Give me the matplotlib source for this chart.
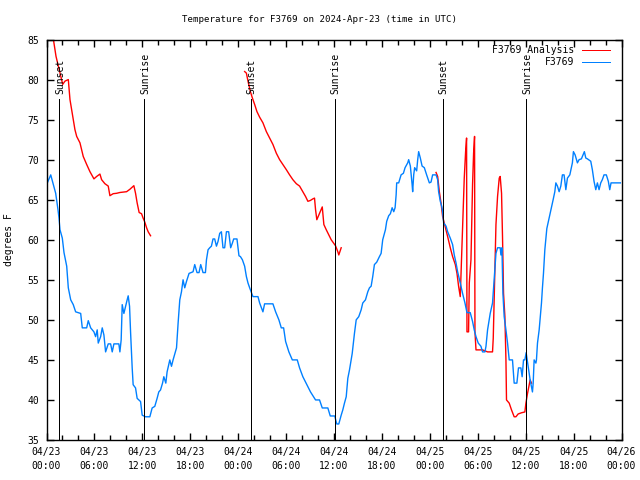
import datetime as dt
import numpy as np
import matplotlib
matplotlib.use("Agg")
import matplotlib.pyplot as plt
import matplotlib.dates as mdates

START = dt.datetime(2024, 4, 23, 0, 0)

# Observed station temperature (hours after 04/23 00:00 UTC, degrees F)
obs_hours = [0.06, 0.53, 1.15, 1.44, 1.56, 1.69, 1.98, 2.19, 2.53, 2.73, 3.03, 3.35, 3.65, 4.28, 4.48,
             5.03, 5.23, 5.53, 5.94, 6.15, 6.35, 6.48, 6.78, 6.98, 7.19, 7.40, 7.73, 8.03, 8.23, 8.44,
             9.06, 9.19, 9.35, 9.48, 9.69, 9.90, 10.10, 10.23, 10.40, 10.53, 10.73, 10.85, 11.15, 11.35,
             11.78, 11.98, 12.40, 12.94, 13.23, 13.56, 13.85, 14.06, 14.28, 14.53, 14.69, 14.94, 15.10,
             15.44, 15.65, 15.85, 16.06, 16.28, 16.48, 16.69, 16.90, 17.10, 17.31, 17.53, 17.85, 18.35,
             18.56, 18.85, 19.10, 19.31, 19.60, 19.90, 20.03, 20.23, 20.44, 20.65, 20.85, 21.06, 21.28,
             21.48, 21.69, 21.90, 22.10, 22.31, 22.53, 22.81, 23.06, 23.28, 23.44, 23.85, 24.10, 24.28,
             24.53, 24.81, 25.03, 25.23, 25.44, 25.85, 26.48, 26.69, 27.10, 27.31, 28.35, 28.69, 29.10,
             29.40, 29.69, 29.94, 30.35, 30.78, 31.40, 31.69, 32.10, 32.60, 33.06, 33.69, 34.19, 34.53,
             35.23, 35.53, 36.10, 36.19, 36.35, 36.60, 36.90, 37.10, 37.31, 37.53, 37.73, 37.94, 38.28,
             38.56, 38.78, 39.10, 39.40, 39.60, 39.94, 40.23, 40.44, 40.65, 40.85, 41.06, 41.35, 41.69,
             41.90, 42.10, 42.44, 42.60, 42.85, 43.06, 43.28, 43.48, 43.65, 43.78, 43.85, 44.10, 44.40,
             44.69, 44.90, 45.23, 45.35, 45.56, 45.78, 45.85, 45.98, 46.10, 46.35, 46.48, 46.60, 46.81,
             47.03, 47.31, 47.60, 47.94, 48.15, 48.35, 48.78, 48.98, 49.10, 49.31, 49.48, 49.60, 49.73,
             50.03, 50.23, 50.56, 50.85, 51.06, 51.28, 51.48, 51.81, 52.10, 52.40, 52.65, 53.06, 53.35,
             53.56, 53.78, 54.06, 54.40, 54.60, 54.90, 55.03, 55.23, 55.56, 55.85, 56.06, 56.28, 56.48,
             56.81, 56.90, 57.03, 57.15, 57.31, 57.53, 57.73, 57.94, 58.35, 58.56, 58.90, 59.10, 59.40,
             59.56, 59.73, 59.90, 60.06, 60.31, 60.56, 60.85, 60.94, 61.06, 61.28, 61.35, 61.48, 61.69,
             61.81, 61.98, 62.10, 62.23, 62.40, 62.53, 62.65, 62.85, 63.03, 63.23, 63.44, 63.65, 63.78,
             63.98, 64.19, 64.40, 64.60, 64.81, 65.03, 65.23, 65.53, 65.73, 65.85, 65.98, 66.19, 66.48,
             66.69, 66.98, 67.19, 67.35, 67.53, 67.73, 68.15, 68.35, 68.56, 68.78, 68.98, 69.19, 69.40,
             69.60, 69.81, 70.10, 70.35, 70.53, 70.69, 71.85]
obs_temp = [67.0, 68.1, 65.8, 63.75, 62.75, 61.25, 60.2, 58.4, 56.7, 54.0, 52.5, 51.9, 51.0, 50.8, 49.0,
            49.0, 49.9, 49.0, 48.5, 47.9, 48.75, 47.1, 47.9, 49.0, 48.1, 46.0, 47.0, 47.0, 46.0, 47.0,
            47.0, 46.0, 47.5, 51.9, 50.8, 51.7, 52.5, 53.0, 51.7, 48.4, 44.0, 41.9, 41.5, 40.2,
            39.8, 38.1, 37.9, 37.9, 39.0, 39.2, 40.2, 41.0, 41.25, 42.1, 42.9, 42.1, 43.5,
            45.0, 44.2, 45.0, 45.75, 46.5, 49.6, 52.5, 53.5, 55.0, 54.0, 54.8, 55.8, 56.0,
            56.9, 55.9, 55.9, 56.9, 55.9, 55.9, 57.5, 58.75, 59.0, 59.2, 60.1, 60.1, 59.2,
            59.8, 60.8, 61.0, 59.0, 59.0, 61.0, 61.0, 59.0, 59.6, 60.1, 60.1, 58.0, 57.9,
            57.5, 56.7, 55.4, 54.6, 54.0, 52.9, 52.9, 52.1, 51.0, 52.0, 52.0, 51.0, 50.0,
            49.0, 49.0, 47.3, 46.0, 45.0, 45.0, 44.0, 42.9, 41.9, 41.0, 40.0, 40.0, 39.0,
            39.0, 38.0, 38.0, 37.6, 37.0, 37.0, 38.1, 38.75, 39.6, 40.4, 42.7, 43.75, 45.8,
            48.3, 50.0, 50.4, 51.25, 52.1, 52.5, 53.5, 54.0, 54.2, 55.4, 56.9, 57.2, 57.9,
            58.3, 60.0, 61.25, 62.3, 63.0, 63.25, 64.0, 63.5, 64.0, 65.6, 67.1, 67.1, 68.1,
            68.3, 69.0, 69.6, 70.0, 69.2, 66.9, 66.0, 68.1, 69.0, 68.6, 70.0, 71.0, 70.2,
            69.2, 69.0, 68.1, 67.1, 67.2, 68.1, 68.1, 67.5, 66.0, 64.8, 64.2, 63.5, 62.1,
            61.7, 61.0, 60.2, 59.4, 58.1, 57.1, 56.0, 54.6, 53.3, 52.1, 50.9, 50.9, 49.8,
            48.75, 47.9, 47.1, 46.7, 46.0, 46.0, 46.7, 48.75, 50.8, 52.1, 55.2, 58.3, 59.0,
            59.0, 58.1, 59.0, 53.3, 50.4, 48.75, 47.1, 45.0, 45.0, 42.1, 42.1, 44.0, 44.0,
            42.9, 45.0, 45.0, 45.9, 44.2, 42.5, 41.0, 42.1, 45.0, 44.6, 45.0, 47.1, 48.75,
            50.2, 52.1, 54.0, 55.8, 58.75, 60.2, 61.4, 62.3, 63.1, 64.0, 65.0, 66.0, 67.1,
            66.7, 66.0, 66.7, 68.1, 68.1, 66.25, 67.7, 68.1, 69.0, 69.6, 71.0, 70.6, 69.6,
            70.0, 70.1, 70.6, 71.0, 70.2, 70.1, 69.8, 68.75, 67.3, 66.25, 67.1, 66.25, 67.1,
            67.5, 68.1, 68.1, 67.3, 66.25, 67.1, 67.1]

# Analysis temperature (NaN marks gaps between segments)
ana_hours = [0.55, 0.85, 1.19, 1.48, 1.78, 2.03, 2.31, 2.73, 2.94, 3.15, 3.35, 3.56, 3.78, 4.19, 4.60,
             5.03, 5.44, 5.94, 6.28, 6.69, 6.90, 7.31, 7.73, 7.94, 8.35, 8.78, 9.19, 10.03, 10.44,
             10.94, 11.15, 11.35, 11.60, 11.90, 12.10, 12.31, 12.53, 12.73, 13.03,
             18.0,
             24.81, 25.03, 25.23, 25.53, 25.78, 26.06, 26.35, 26.69, 27.10, 27.53, 27.94, 28.35, 28.78,
             29.19, 29.60, 30.03, 30.44, 30.85, 31.28, 31.69, 32.10, 32.44, 32.73, 33.03, 33.35, 33.56,
             33.69, 33.85, 34.19, 34.53, 34.73, 35.03, 35.35, 35.65, 35.94, 36.19, 36.48, 36.60, 36.81,
             36.90,
             42.0,
             48.78, 48.98, 49.19, 49.40, 49.60, 49.90, 50.23, 50.56, 50.85, 51.19, 51.40, 51.60, 51.81,
             51.98, 52.10, 52.31, 52.48, 52.60, 52.65, 52.85, 52.94, 53.15, 53.35, 53.48, 53.60, 53.65,
             53.78, 54.60, 55.23, 55.85, 55.94, 56.06, 56.28, 56.48, 56.69, 56.81, 56.98, 57.10, 57.23,
             57.40, 57.53, 57.60, 57.94, 58.23, 58.56, 58.78, 59.06, 59.48, 59.90, 60.03, 60.23, 60.56,
             60.73]
ana_temp = [86.5, 85.1, 82.9, 81.7, 80.4, 79.4, 79.8, 80.0, 77.5, 76.25, 75.0, 73.75, 72.9, 72.1, 70.4,
            69.4, 68.5, 67.6, 67.9, 68.2, 67.5, 67.0, 66.7, 65.5, 65.75, 65.8, 65.9, 66.0, 66.3,
            66.75, 65.8, 64.6, 63.4, 63.25, 62.7, 62.2, 61.5, 61.0, 60.5,
            np.nan,
            81.0, 80.8, 79.8, 78.5, 77.7, 76.9, 76.0, 75.3, 74.6, 73.5, 72.7, 71.9, 70.8,
            70.0, 69.4, 68.75, 68.1, 67.5, 67.0, 66.7, 66.0, 65.4, 64.8, 64.9, 65.1, 65.2,
            63.75, 62.5, 63.3, 64.1, 61.9, 61.25, 60.6, 60.0, 59.6, 59.25, 58.5, 58.1, 58.75,
            59.0,
            np.nan,
            68.4, 67.9, 66.0, 64.6, 62.9, 61.7, 60.4, 59.0, 57.9, 56.9, 55.8, 54.2, 52.9,
            57.9, 61.25, 67.7, 71.0, 72.7, 48.5, 48.5, 54.6, 57.5, 66.9, 70.8, 72.9, 48.5,
            46.25, 46.25, 46.0, 46.0, 47.7, 52.9, 61.9, 65.4, 67.7, 67.9, 65.8, 60.4, 53.3,
            50.4, 45.0, 40.0, 39.6, 38.75, 37.9, 37.9, 38.25, 38.4, 38.5, 39.6, 40.8, 42.5,
            42.1]

# Sun events (hours after 04/23 00:00 UTC)
event_hours = [1.6, 12.23, 25.6, 36.1, 49.6, 60.1]
event_labels = ["Sunset", "Sunrise", "Sunset", "Sunrise", "Sunset", "Sunrise"]

title = "Temperature for F3769 on 2024-Apr-23 (time in UTC)"
series_labels = ["F3769 Analysis", "F3769"]

FONT = "DejaVu Sans Mono"
FS = 7
plt.rcParams["font.family"] = FONT
plt.rcParams["font.size"] = FS

LW = 0.72  # one pixel at 100 dpi


def to_dt(hours):
    return [START + dt.timedelta(hours=float(h)) for h in hours]


fig = plt.figure(figsize=(6.4, 4.8), dpi=100)
W, H = 640, 480
left, right, top, bottom = 46.5, 621.5, 39.5, 440.0
ax = fig.add_axes([left / W, 1 - bottom / H, (right - left) / W, (bottom - top) / H])

red = "#ff0000"
blue = "#0080ff"

ax.plot(to_dt(ana_hours), ana_temp, color=red, lw=1.0)
ax.plot(to_dt(obs_hours), obs_temp, color=blue, lw=1.0)

ev_dt = to_dt(event_hours)
ax.vlines(ev_dt, 35, 77.6, color="black", lw=LW, antialiased=False)
for d, lab in zip(ev_dt, event_labels):
    ax.text(mdates.date2num(d) + 0.004, 78.2, lab, rotation=90, ha="center", va="bottom",
            fontsize=FS)

ax.set_xlim(START, START + dt.timedelta(days=3))
ax.set_ylim(35, 85)
ax.xaxis.set_major_locator(mdates.HourLocator(byhour=[0, 6, 12, 18]))
ax.xaxis.set_minor_locator(mdates.HourLocator(byhour=range(0, 24, 2)))
ax.xaxis.set_major_formatter(mdates.DateFormatter("%m/%d\n%H:%M"))
ax.set_yticks(np.arange(35, 86, 5))

ax.tick_params(axis="both", which="major", direction="in", length=5, width=1,
               top=True, right=True, labelsize=FS, pad=5)
ax.tick_params(axis="x", which="minor", direction="in", length=3.5, width=1, top=True)
for lab in ax.get_xticklabels():
    lab.set_linespacing(1.5)
for sp in ax.spines.values():
    sp.set_linewidth(1.0)

ax.set_ylabel("degrees F", fontsize=FS, labelpad=10)
fig.text(0.5, 1 - 20 / H, title, ha="center", va="center", fontsize=6.6)

# gnuplot-style legend: text right-aligned, sample line to its right
aw, ah = right - left, bottom - top
for i, (lab, col) in enumerate(zip(series_labels, [red, blue])):
    yy = 50 + i * 12.3
    yf = (bottom - yy) / ah
    ax.text((574 - left) / aw, yf, lab, transform=ax.transAxes, ha="right", va="center", fontsize=FS)
    ax.plot([(582 - left) / aw, (610 - left) / aw], [yf, yf], transform=ax.transAxes,
            color=col, lw=LW, clip_on=False, antialiased=False)

fig.savefig("out.png", dpi=100)
